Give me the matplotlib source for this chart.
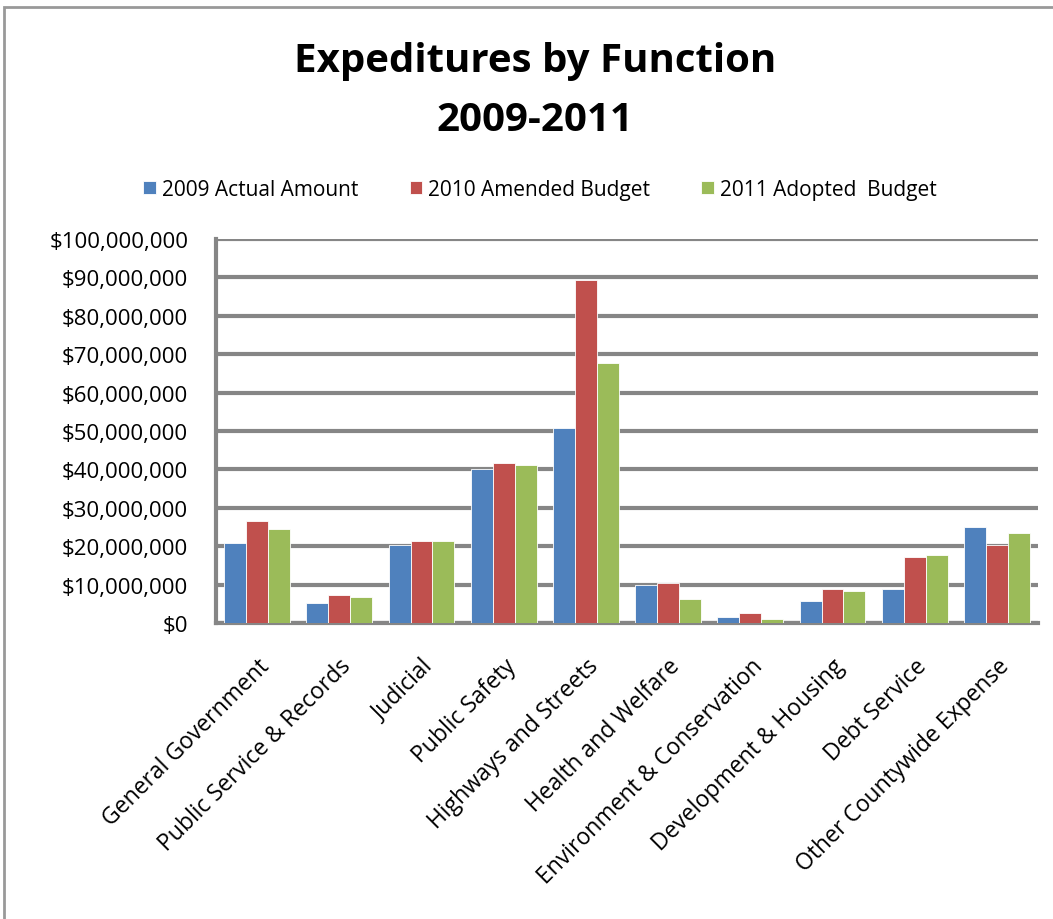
import numpy as np
import matplotlib.pyplot as plt
from matplotlib.patches import Rectangle
from matplotlib.ticker import FuncFormatter, MultipleLocator

plt.rcParams['font.family'] = ['Open Sans', 'DejaVu Sans']

categories = [
    "General Government", "Public Service & Records", "Judicial",
    "Public Safety", "Highways and Streets", "Health and Welfare",
    "Environment & Conservation", "Development & Housing",
    "Debt Service", "Other Countywide Expense",
]
series_names = ["2009 Actual Amount", "2010 Amended Budget", "2011 Adopted  Budget"]

actual_2009 = [20.8, 5.2, 20.4, 40.1, 50.9, 10.0, 1.6, 5.7, 8.8, 24.9]
amended_2010 = [26.5, 7.3, 21.3, 41.6, 89.3, 10.4, 2.6, 8.8, 17.2, 20.4]
adopted_2011 = [24.5, 6.8, 21.3, 41.1, 67.6, 6.3, 1.0, 8.3, 17.7, 23.4]

colors = ["#4F81BD", "#C0504D", "#9BBB59"]
grid_gray = "#868686"

fig = plt.figure(figsize=(10.53, 9.2), dpi=100)
ax = fig.add_axes([0.2051, 0.3217, 0.7807, 0.4174])

x = np.arange(len(categories))
w = 0.8 / 3
for i, vals in enumerate([actual_2009, amended_2010, adopted_2011]):
    ax.bar(x + (i - 1) * w, np.array(vals) * 1e6, width=w, color=colors[i],
           edgecolor="white", linewidth=0.6, label=series_names[i], zorder=3)

ax.set_xlim(-0.5, len(categories) - 0.5)
ax.set_ylim(0, 100e6)
ax.yaxis.set_major_locator(MultipleLocator(10e6))
ax.yaxis.set_major_formatter(FuncFormatter(lambda v, p: f"${v:,.0f}"))
ax.grid(axis="y", color=grid_gray, linewidth=3, zorder=0)
ax.set_axisbelow(True)

for s in ["top", "right"]:
    ax.spines[s].set_visible(False)
for s in ["left", "bottom"]:
    ax.spines[s].set_color(grid_gray)
    ax.spines[s].set_linewidth(3)

ax.tick_params(axis="y", length=0, labelsize=16, pad=20)
ax.tick_params(axis="x", length=0, labelsize=16.5, pad=22)
ax.set_xticks(x)
ax.set_xticklabels(categories, rotation=45, ha="right", rotation_mode="anchor")

fig.text(0.508, 0.933, "Expeditures by Function", ha="center", va="center",
         fontsize=29, fontweight="bold")
fig.text(0.508, 0.869, "2009-2011", ha="center", va="center",
         fontsize=29, fontweight="bold")

fig.legend(loc="center", bbox_to_anchor=(0.513, 0.793), ncol=3, frameon=False,
           fontsize=15, handlelength=0.6, handleheight=0.6, handletextpad=0.3,
           columnspacing=2.45)

# chart border
fig.patches.append(Rectangle((4 / 1053, -0.05), 1.2, 0.05 + (920 - 8) / 920,
                             transform=fig.transFigure, fill=False,
                             edgecolor="#999999", linewidth=2))

fig.savefig("out.png", dpi=100)
